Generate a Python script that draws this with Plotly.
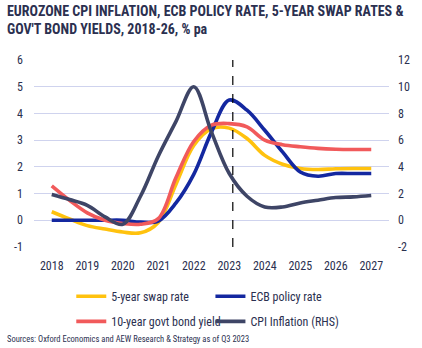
import plotly.graph_objects as go

# Half-yearly readings, 2018 to 2027
years = [2018 + 0.5 * i for i in range(19)]

swap_5y = [0.32, 0.05, -0.20, -0.33, -0.44, -0.47, -0.08, 1.35, 2.80, 3.43,
           3.45, 3.06, 2.43, 2.10, 1.94, 1.90, 1.93, 1.94, 1.94]
ecb_rate = [0.00, 0.00, 0.00, 0.00, 0.00, -0.07, -0.03, 0.65, 1.72, 3.30,
            4.50, 4.12, 3.37, 2.56, 1.81, 1.65, 1.75, 1.75, 1.75]
govt_10y = [1.29, 0.75, 0.28, 0.00, -0.12, -0.15, 0.06, 1.60, 2.95, 3.56,
            3.62, 3.50, 3.00, 2.83, 2.75, 2.69, 2.66, 2.65, 2.65]
cpi_rhs = [1.93, 1.55, 1.12, 0.25, -0.30, 1.80, 4.80, 7.40, 10.00, 6.60,
           3.50, 1.80, 1.00, 1.00, 1.30, 1.50, 1.70, 1.75, 1.85]

series_names = ["5-year swap rate", "ECB policy rate",
                "10-year govt bond yield", "CPI Inflation (RHS)"]

year_ticks = list(range(2018, 2028))
left_ticks = [-1, 0, 1, 2, 3, 4, 5, 6]
left_labels = ["-1", "0", "1", "2", "3", "4", "5", "6"]
right_ticks = [-2, 0, 2, 4, 6, 8, 10, 12]
right_labels = ["-2", "0", "2", "4", "6", "8", "10", "12"]
forecast_start = 2023.1

title_text = ("EUROZONE CPI INFLATION, ECB POLICY RATE, 5-YEAR SWAP RATES &<br>"
              "GOV'T BOND YIELDS, 2018-26, % pa")
source_text = "Sources: Oxford Economics and AEW Research & Strategy as of Q3 2023"

NAVY = "#2b3050"
FONT = "Roboto Condensed, Liberation Sans Narrow, DejaVu Sans Condensed, sans-serif"
GRID = "#cfd3ee"

# Each series gets its own one-entry legend so the key sits on a 2x2 grid
legend_ids = ["legend", "legend2", "legend3", "legend4"]
legend_cols = [0.105, 0.497, 0.105, 0.497]
legend_rows = [-0.186, -0.186, -0.32, -0.32]

fig = go.Figure()
line_style = dict(shape="spline", smoothing=1.0, width=3.6)
for i, (vals, color, axis) in enumerate([
    (swap_5y, "#ffc20e", "y"),
    (ecb_rate, "#1428a0", "y"),
    (govt_10y, "#f15a5b", "y"),
    (cpi_rhs, "#3e4566", "y2"),
]):
    fig.add_trace(go.Scatter(x=years, y=vals, name=series_names[i],
                             mode="lines", legend=legend_ids[i],
                             line=dict(color=color, **line_style), yaxis=axis))

fig.add_shape(type="line", x0=forecast_start, x1=forecast_start, xref="x",
              y0=0, y1=1, yref="paper",
              line=dict(color="black", width=1.2, dash="dash"))

# Two-line heading in the top-left corner
fig.add_annotation(text="<b>" + title_text.replace("<br>", "</b><br><b>") + "</b>",
                   xref="paper", yref="paper", x=-29 / 360, y=1 + 59 / 187,
                   xanchor="left", yanchor="top", align="left",
                   showarrow=False,
                   font=dict(family=FONT, size=14, color=NAVY))

fig.add_annotation(text=source_text, xref="paper", yref="paper",
                   x=-0.081, y=-0.49, xanchor="left", yanchor="middle",
                   showarrow=False, font=dict(family=FONT, size=8.5, color=NAVY))

legend_style = dict(orientation="h", xanchor="left", yanchor="top",
                    font=dict(family=FONT, size=12, color=NAVY),
                    bgcolor="rgba(0,0,0,0)")
legends = {lid: dict(x=lx, y=ly, **legend_style)
           for lid, lx, ly in zip(legend_ids, legend_cols, legend_rows)}

fig.update_layout(
    width=422, height=348,
    margin=dict(l=34, r=28, t=60, b=101),
    paper_bgcolor="white", plot_bgcolor="white",
    font=dict(family=FONT, size=12, color=NAVY),
    showlegend=True,
    **legends,
    xaxis=dict(range=[2017.5, 2027.5], tickvals=year_ticks,
               ticktext=[str(y) for y in year_ticks], showgrid=False,
               zeroline=False, showline=False, ticks="",
               ticklabelstandoff=10),
    yaxis=dict(range=[-1, 6], tickvals=left_ticks, ticktext=left_labels,
               showgrid=True, gridcolor=GRID, gridwidth=1, zeroline=False,
               showline=False, ticks="", ticklabelstandoff=10),
    yaxis2=dict(range=[-2, 12], tickvals=right_ticks, ticktext=right_labels,
                overlaying="y", side="right", showgrid=False, zeroline=False,
                showline=False, ticks="", ticklabelstandoff=8),
)

fig.write_html("out.html")
